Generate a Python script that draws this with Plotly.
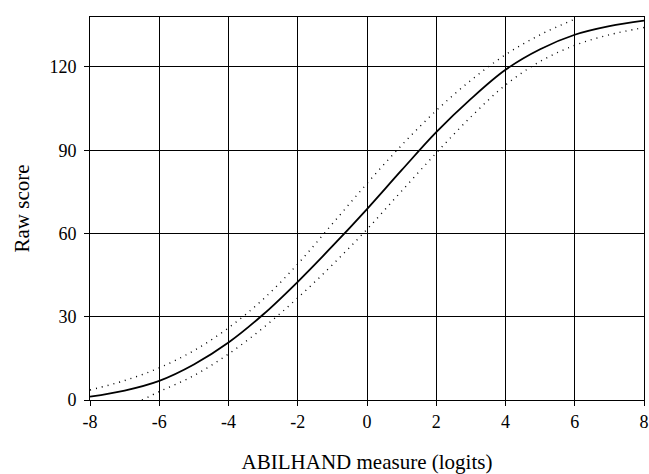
import plotly.graph_objects as go

# Data
x_logits = [-8, -7, -6, -5, -4, -3, -2, -1, 0, 1, 2, 3, 4, 5, 6, 7, 8]
raw_expected = [1.2, 3.4, 6.9, 12.8, 20.7, 30.8, 42.6, 55.4, 68.8, 82.8, 96.5, 108.5, 119.0, 126.4, 131.6, 134.7, 136.7]

x_upper = [-8, -7, -6, -5, -4, -3, -2, -1, 0, 1, 2, 3, 4, 5, 6]
raw_upper = [3.6, 7.0, 11.6, 17.8, 26.0, 36.3, 49.0, 63.5, 78.0, 91.8, 104.3, 115.2, 124.4, 131.6, 137.2]

x_lower = [-6.5, -6, -5, -4, -3, -2, -1, 0, 1, 2, 3, 4, 5, 6, 7, 8]
raw_lower = [0.0, 3.0, 8.8, 16.6, 26.0, 36.8, 48.7, 61.5, 75.3, 89.0, 102.0, 113.5, 122.0, 127.8, 131.6, 134.2]

x_ticks = [-8, -6, -4, -2, 0, 2, 4, 6, 8]
x_ticklabels = ["-8", "-6", "-4", "-2", "0", "2", "4", "6", "8"]
y_ticks = [0, 30, 60, 90, 120]
y_ticklabels = ["0", "30", "60", "90", "120"]

FONT = "Liberation Serif, Times New Roman, serif"

fig = go.Figure()
fig.add_trace(go.Scatter(x=x_upper, y=raw_upper, mode="lines",
                         line=dict(color="black", width=1.4, dash="1px,5px", shape="spline"),
                         showlegend=False))
fig.add_trace(go.Scatter(x=x_lower, y=raw_lower, mode="lines",
                         line=dict(color="black", width=1.4, dash="1px,5px", shape="spline"),
                         showlegend=False))
fig.add_trace(go.Scatter(x=x_logits, y=raw_expected, mode="lines",
                         line=dict(color="black", width=1.8, shape="spline"),
                         showlegend=False))

fig.update_layout(
    width=649, height=474,
    margin=dict(l=90, r=5, t=17, b=74),
    paper_bgcolor="white", plot_bgcolor="white",
    font=dict(family=FONT, color="black", size=18),
    hovermode=False,
)
fig.update_xaxes(
    range=[-8, 8], tickvals=x_ticks, ticktext=x_ticklabels,
    showgrid=True, gridcolor="#000", gridwidth=1, zeroline=False,
    showline=True, linecolor="#000", linewidth=1, mirror=True,
    ticks="outside", ticklen=5, tickcolor="#000", tickwidth=1,
    tickfont=dict(size=18, family=FONT), automargin=False,
    title=dict(text="ABILHAND measure (logits)", font=dict(size=21, family=FONT), standoff=24),
)
fig.update_yaxes(
    range=[0, 138], tickvals=y_ticks, ticktext=y_ticklabels,
    showgrid=True, gridcolor="#000", gridwidth=1, zeroline=False,
    showline=True, linecolor="#000", linewidth=1, mirror=True,
    ticks="outside", ticklen=5, tickcolor="#000", tickwidth=1,
    tickfont=dict(size=18, family=FONT), ticklabelstandoff=4, automargin=False,
    title=dict(text="Raw score", font=dict(size=21, family=FONT), standoff=14),
)

fig.write_html(
    "out.html",
    config={"displayModeBar": False, "staticPlot": True},
    post_script="document.body.style.margin='0';document.body.style.overflow='hidden';",
)
